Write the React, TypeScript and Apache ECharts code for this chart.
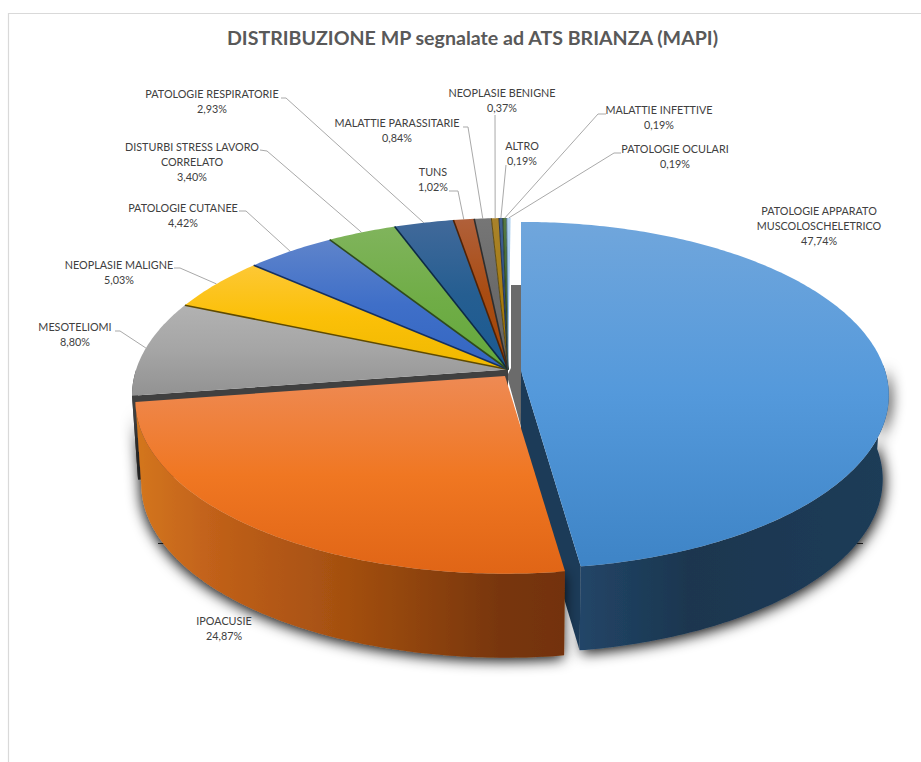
import React, { useEffect, useRef } from "react";
import * as echarts from "echarts";

const titleText = "DISTRIBUZIONE MP segnalate ad ATS BRIANZA (MAPI)";
const categories = [
  "PATOLOGIE APPARATO\nMUSCOLOSCHELETRICO",
  "IPOACUSIE",
  "MESOTELIOMI",
  "NEOPLASIE MALIGNE",
  "PATOLOGIE CUTANEE",
  "DISTURBI STRESS LAVORO\nCORRELATO",
  "PATOLOGIE RESPIRATORIE",
  "TUNS",
  "MALATTIE PARASSITARIE",
  "NEOPLASIE BENIGNE",
  "ALTRO",
  "MALATTIE INFETTIVE",
  "PATOLOGIE OCULARI",
];
const values = [47.74, 24.87, 8.8, 5.03, 4.42, 3.4, 2.93, 1.02, 0.84, 0.37, 0.19, 0.19, 0.19];
const colors = ["#5499db", "#f07722", "#a5a5a5", "#fbc008", "#3f6fc8", "#70ad47", "#255e91", "#a94c12", "#6a6a6a", "#a87d10", "#2f4f88", "#43682b", "#9cc6ea"];
const topLight = ["#70a6dc", "#ee8a54", "#b2b2b2", "#fdc835", "#5f84cb", "#80b45c", "#41699a", "#b0603a", "#767676", "#a8822c", "#40608f", "#557a45", "#b5d5f0"];
const topDark = ["#3e84c6", "#e06516", "#929292", "#efb800", "#3366c2", "#64a83c", "#1a5a92", "#a24708", "#666666", "#a07500", "#2a4a80", "#3f6a28", "#8cbbe0"];
const edgeColors = ["#1f3d5a", "#743408", "#404040", "#5f4a00", "#16305f", "#2e4a1c", "#0d2a44", "#4f2206", "#2e2e2e", "#4a3800", "#14223c", "#203414", "#3a5a78"];
// Centre of each slice's top face: the two exploded slices sit apart from the rest.
const BASE = [508, 369.5];
const sliceCentres = [[521, 371], [505, 376], BASE, BASE, BASE, BASE, BASE, BASE, BASE, BASE, BASE, BASE, BASE];
// [x centre, top of the text block]
const labelBoxes = [[819, 203], [224, 613], [75, 319], [119, 257], [183, 200], [192, 139], [212, 86], [433, 164], [397, 115], [502, 85], [522, 138], [659, 102], [675, 141]];
// Leader line starts, near the label; the end is computed on the slice's rim.
const leaderStarts: (number[][] | null)[] = [null, null,
  [[115, 331], [120, 331]], [[174, 268], [180, 268]], [[239, 211], [246, 211]], [[260, 150], [267, 151]], [[281, 98], [286, 98]],
  [[449, 191], [458, 191]], [[463, 127], [468, 127]], [[495, 115]], [[506, 165]], [[606, 114], [598, 114]], [[621, 153], [614, 153]]];

const RX = 366, RY = 170, K = 0.14, WALL = 84, SHRINK = 0.984, VX = 510;
const total = values.reduce((a, b) => a + b, 0);
const starts: number[] = [];
values.reduce((acc, v, i) => { starts[i] = (acc / total) * 360; return acc + v; }, 0);
const sweep = (i: number) => (values[i] / total) * 360;

// i < 2 are the exploded slices; the un-exploded pie is a touch larger and skewed.
function proj(deg: number, i: number) {
  const c = sliceCentres[i];
  const scaleX = i === 0 ? 0.995 : i === 1 ? 1 : 1.016;
  const scaleY = i < 2 ? 1 : 1.016;
  const skew = i < 2 ? 0 : -3;
  const t = (deg * Math.PI) / 180;
  const u = Math.sin(t), v = -Math.cos(t), w = 1 - K * v;
  return [c[0] + (RX * scaleX * u + skew * v) / w, c[1] + (RY * scaleY * v) / w];
}
const down = (p: number[]) => [VX + (p[0] - VX) * SHRINK, p[1] + WALL];
function arc(a: number, b: number, i: number) {
  const n = Math.max(2, Math.ceil(Math.abs(b - a) / 0.75) + 1);
  const out: number[][] = [];
  for (let j = 0; j < n; j++) out.push(proj(a + ((b - a) * j) / (n - 1), i));
  return out;
}
const vGrad = (i: number) => ({
  type: "linear", x: 0, y: 0, x2: 0, y2: 1,
  colorStops: [{ offset: 0, color: topLight[i] }, { offset: 0.5, color: colors[i] }, { offset: 1, color: topDark[i] }],
});
const orangeWall = { type: "linear", global: true, x: 135, y: 0, x2: 563, y2: 0, colorStops: [
  { offset: 0, color: "#d4761f" }, { offset: 0.2, color: "#bf5f19" }, { offset: 0.5, color: "#a34f10" }, { offset: 0.85, color: "#78360a" }, { offset: 1, color: "#733208" } ] };
const blueWall = { type: "linear", global: true, x: 582, y: 0, x2: 889, y2: 0, colorStops: [
  { offset: 0, color: "#224567" }, { offset: 0.35, color: "#1b364f" }, { offset: 1, color: "#1f3c58" } ] };

function wallPoly(a: number[], b: number[]) {
  return [a, b, down(b), down(a)];
}

function renderSlice(i: number) {
  const c = sliceCentres[i];
  const a = starts[i], b = a + sweep(i);
  const children: any[] = [];
  if (i === 0) {
    const rim = arc(88, b, i);
    children.push({ type: "polygon", shape: { points: [...rim, ...rim.slice().reverse().map(down)] },
      style: { fill: blueWall, shadowBlur: 14, shadowColor: "rgba(0,0,0,0.95)", shadowOffsetY: 3, shadowOffsetX: 2 } });
    children.push({ type: "polygon", shape: { points: wallPoly(c, proj(b, i)) }, style: { fill: "#1c3b58" } });
  }
  if (i === 1) {
    const rim = arc(a, b, i);
    children.push({ type: "polygon", shape: { points: [...rim, ...rim.slice().reverse().map(down)] },
      style: { fill: orangeWall, shadowBlur: 14, shadowColor: "rgba(0,0,0,0.95)", shadowOffsetY: 3, shadowOffsetX: -1 } });
  }
  if (i === 2) {
    const rim = arc(a, 270, i);
    children.push({ type: "polygon", shape: { points: [...rim, ...rim.slice().reverse().map(down)] }, style: { fill: edgeColors[2] } });
    children.push({ type: "polygon", shape: { points: wallPoly(c, proj(a, i)) }, style: { fill: edgeColors[2] } });
  }
  children.push({ type: "polygon", shape: { points: [c, ...arc(a, b, i)] }, style: { fill: vGrad(i) } });
  if (i > 2) {
    children.push({ type: "polyline", shape: { points: [c, proj(a, i)] }, style: { fill: "none", stroke: edgeColors[i], lineWidth: i > 8 ? 0.8 : 1.6 } });
  }
  return { type: "group", children };
}

export default function App() {
  const ref = useRef<HTMLDivElement>(null);
  useEffect(() => {
    document.body.style.margin = "0";
    const chart = echarts.init(ref.current!, null, { renderer: "svg" });
    const font = '10.8px Lato, "Noto Sans", sans-serif';
    const graphics: any[] = [
      { type: "rect", z: 0, shape: { x: 8.5, y: 13.5, width: 930, height: 770 }, style: { fill: "#fff", stroke: "#d9d9d9", lineWidth: 1.2 } },
      { type: "polygon", z: 1, shape: { points: [[511, 285], [521, 285], [523, 434], [507, 376], [511, 368]] }, style: { fill: "#6b6b6b" } },
    ];
    leaderStarts.forEach((s, i) => {
      if (!s) return;
      const end = proj(starts[i] + sweep(i) / 2, i);
      graphics.push({ type: "polyline", z: 1, shape: { points: [...s, end] }, style: { fill: "none", stroke: "#a9a9a9", lineWidth: 1 } });
    });
    categories.forEach((name, i) => {
      graphics.push({ type: "text", z: 20, x: labelBoxes[i][0], y: labelBoxes[i][1], style: {
        text: `${name}\n${values[i].toFixed(2).replace(".", ",")}%`, font, fill: "#404040", align: "center", verticalAlign: "top", lineHeight: 15 } });
    });
    graphics.push({ type: "line", z: 2, shape: { x1: 158, y1: 543.5, x2: 168, y2: 543.5 }, style: { stroke: "#333", lineWidth: 1 } });
    graphics.push({ type: "line", z: 2, shape: { x1: 852, y1: 543.5, x2: 863, y2: 543.5 }, style: { stroke: "#333", lineWidth: 1 } });
    const order = [2, 3, 4, 5, 6, 7, 8, 9, 10, 11, 12, 0, 1];
    chart.setOption({
      animation: false,
      backgroundColor: "#fff",
      title: { text: titleText, left: 467.5, top: 22, textAlign: "center",
        textStyle: { fontFamily: 'Lato, "Noto Sans", sans-serif', fontSize: 19.6, fontWeight: "bold", color: "#595959" } },
      graphic: graphics,
      series: [{
        type: "custom", coordinateSystem: "none", z: 5, silent: true,
        data: order.map((i) => ({ name: categories[i], value: values[i] })),
        renderItem: (params: any) => renderSlice(order[params.dataIndex]),
      }],
    });
    return () => chart.dispose();
  }, []);
  return <div ref={ref} style={{ position: "fixed", left: 0, top: 0, width: 921, height: 762 }} />;
}
